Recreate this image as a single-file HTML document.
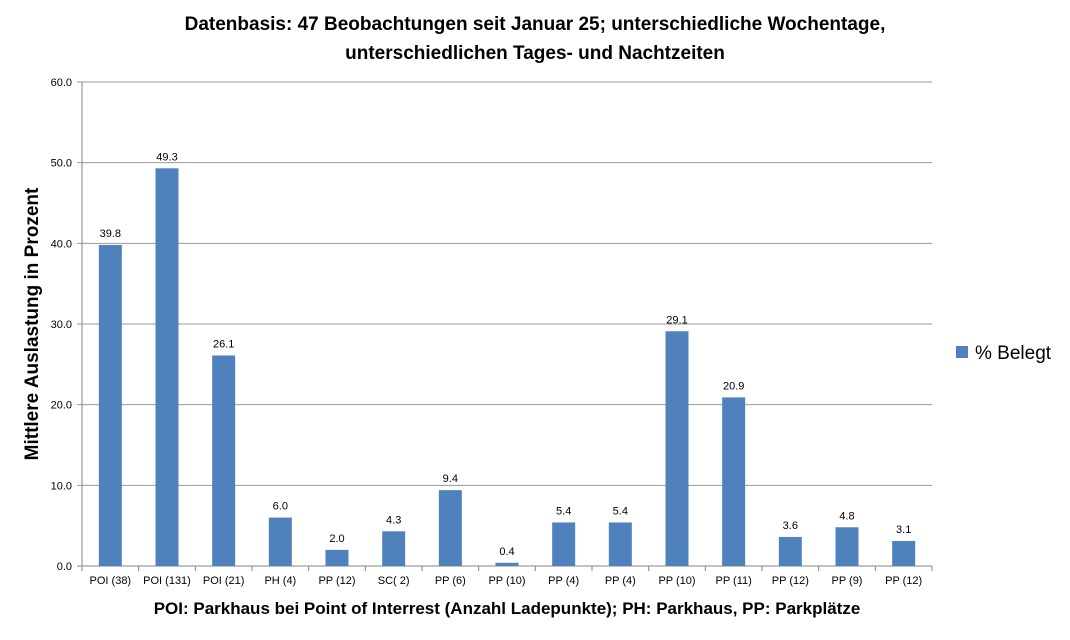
<!DOCTYPE html>
<html><head><meta charset="utf-8"><style>
body{margin:0;background:#fff;width:1070px;height:635px;overflow:hidden;font-family:"Liberation Sans",sans-serif}
</style></head><body>
<svg id="chart" width="1070" height="635" xmlns="http://www.w3.org/2000/svg">
<text x="535" y="30" text-anchor="middle" font-size="19" font-weight="bold" fill="#000">Datenbasis: 47 Beobachtungen seit Januar 25; unterschiedliche  Wochentage,</text>
<text x="535" y="59" text-anchor="middle" font-size="19" font-weight="bold" fill="#000">unterschiedlichen Tages- und Nachtzeiten</text>
<text transform="translate(38,324) rotate(-90)" text-anchor="middle" font-size="19" font-weight="bold" fill="#000">Mittlere Auslastung in Prozent</text>
<text x="507" y="614" text-anchor="middle" font-size="17" font-weight="bold" fill="#000">POI: Parkhaus  bei Point of Interrest (Anzahl Ladepunkte); PH: Parkhaus,  PP: Parkplätze</text>
<g id="grid"></g><g id="bars"></g><g id="xlabels"></g>
<rect x="956" y="346" width="12" height="12" fill="#4f81bd"/>
<text x="975" y="359" font-size="19" fill="#000">% Belegt</text>
</svg>
<script>
const categories=["POI (38)","POI (131)","POI (21)","PH (4)","PP (12)","SC( 2)","PP (6)","PP (10)","PP (4)","PP (4)","PP (10)","PP (11)","PP (12)","PP (9)","PP (12)"];
const values=[39.8,49.3,26.1,6.0,2.0,4.3,9.4,0.4,5.4,5.4,29.1,20.9,3.6,4.8,3.1];
const yTicks=[0,10,20,30,40,50,60];
const X0=82,X1=932,Y0=566,Y1=82,YMAX=60;
const ns="http://www.w3.org/2000/svg";
const y=v=>Y0-(v/YMAX)*(Y0-Y1);
const bw=(X1-X0)/categories.length;
const x=i=>X0+bw*i;
function mk(tag,attrs,parent,txt){const e=document.createElementNS(ns,tag);for(const k in attrs)e.setAttribute(k,attrs[k]);if(txt!==undefined)e.textContent=txt;document.getElementById(parent).appendChild(e);return e;}
yTicks.forEach(t=>{
  const g=mk('line',{x1:X0-5,x2:X1,y1:y(t),y2:y(t),stroke:t===0?'#868686':'#9a9a9a','stroke-width':1},'grid');
  
  
  const l=mk('text',{x:X0-10,y:y(t)+4,'text-anchor':'end','font-size':11,fill:'#000'},'grid',t.toFixed(1));
  
  
});
const ax=mk('line',{x1:X0,x2:X0,y1:Y1,y2:Y0,stroke:'#868686'},'grid');


for(let i=0;i<=categories.length;i++){
  const tk=mk('line',{x1:x(i),x2:x(i),y1:Y0,y2:Y0+5,stroke:'#868686'},'grid');
  
  
}
values.forEach((v,i)=>{
  const cx=x(i)+bw/2;
  const r=mk('rect',{x:cx-11.5,y:y(v),width:23,height:Y0-y(v),fill:'#4f81bd'},'bars');
  
  
  const t=mk('text',{x:cx,y:y(v)-8,'text-anchor':'middle','font-size':11,fill:'#000'},'bars',v.toFixed(1));
  
  
  const c=mk('text',{x:cx,y:Y0+18,'text-anchor':'middle','font-size':11,fill:'#000'},'xlabels',categories[i]);
  
  
});
</script>
</body></html>
